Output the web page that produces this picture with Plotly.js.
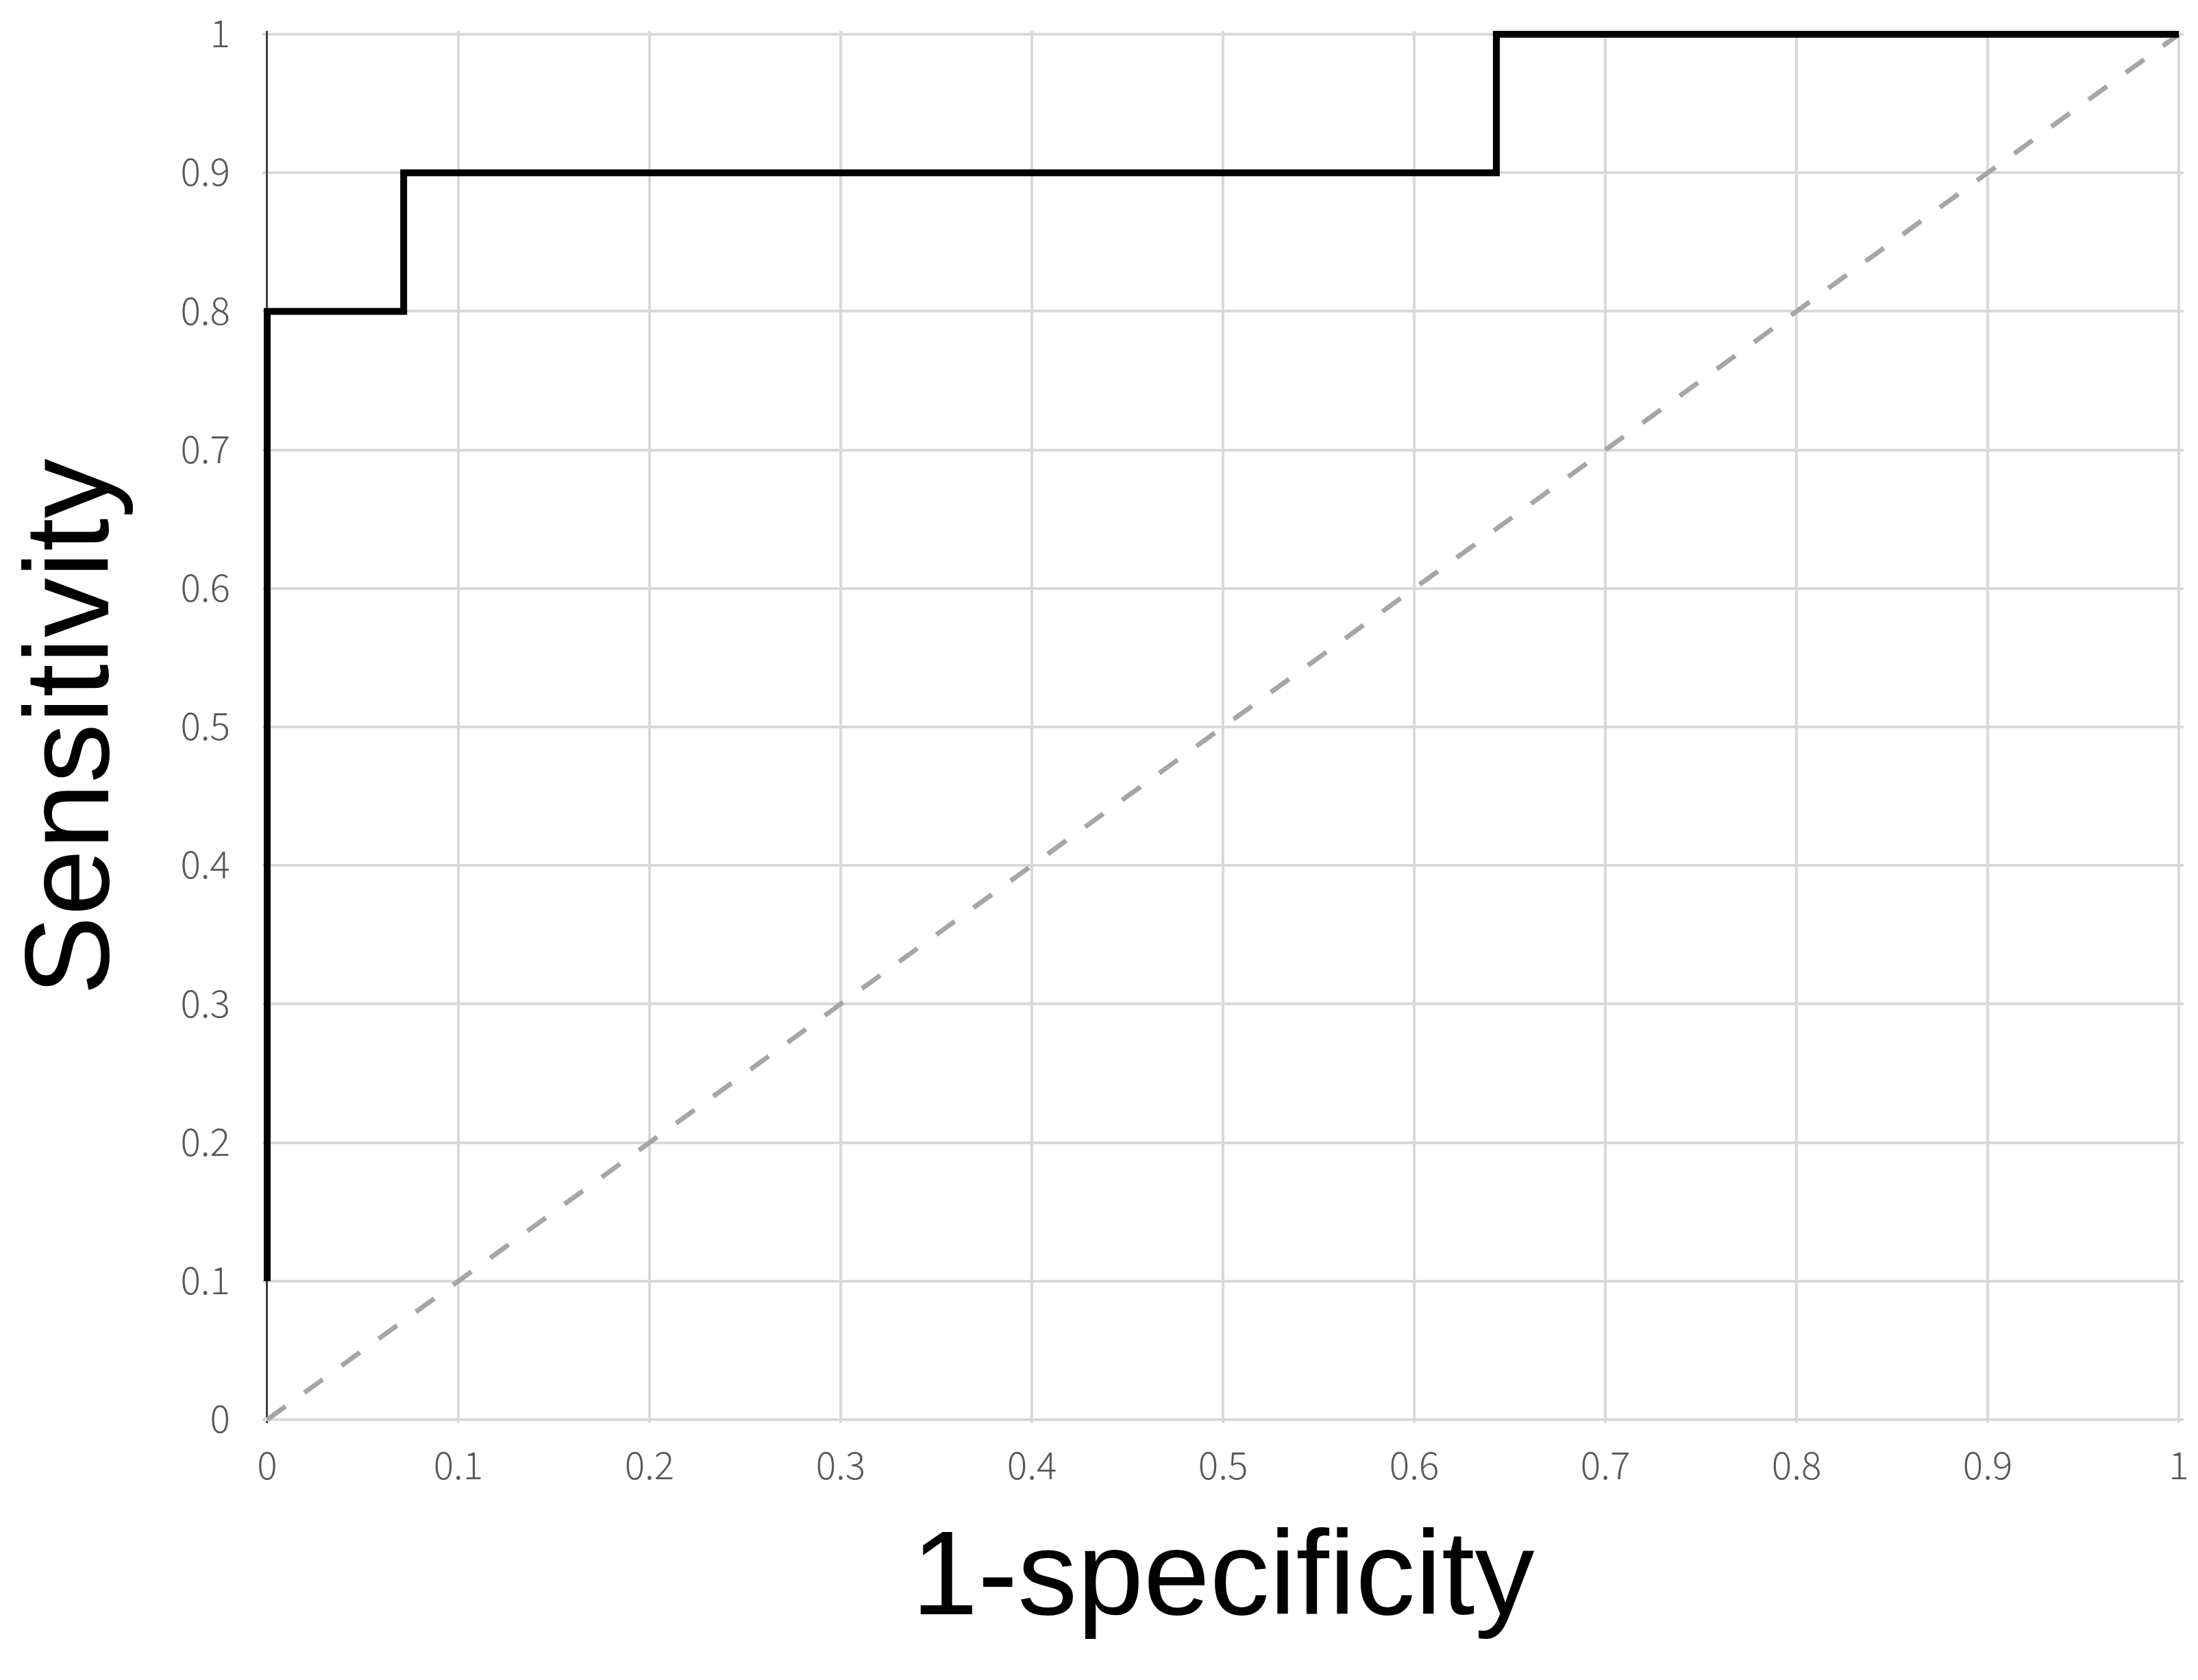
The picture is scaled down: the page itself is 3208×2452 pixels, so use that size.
<!DOCTYPE html>
<html>
<head>
<meta charset="utf-8">
<script src="https://cdn.plot.ly/plotly-3.0.1.min.js"></script>
<style>
  html, body { margin: 0; padding: 0; background: #ffffff; }
  #chart { width: 3208px; height: 2452px; }
</style>
</head>
<body>
<div id="chart"></div>
<script>
// ROC curve (1-specificity vs sensitivity)
const rocX = [0, 0, 0.0714, 0.0714, 0.643, 0.643, 1];
const rocY = [0.1, 0.8, 0.8, 0.9, 0.9, 1, 1];
// chance (reference) diagonal
const refX = [0, 1];
const refY = [0, 1];
// axis ticks
const tickVals = [0, 0.1, 0.2, 0.3, 0.4, 0.5, 0.6, 0.7, 0.8, 0.9, 1];
const tickText = ['0', '0.1', '0.2', '0.3', '0.4', '0.5', '0.6', '0.7', '0.8', '0.9', '1'];

const tickFont = { family: 'Noto Sans CJK JP, Noto Sans, sans-serif', size: 55, color: '#595959', weight: 300 };
const titleFont = { family: 'Liberation Sans, Arial, sans-serif', size: 174, color: '#000000' };

const traces = [
  {
    x: refX, y: refY, type: 'scatter', mode: 'lines',
    line: { color: '#a6a6a6', width: 7, dash: '33px,34px' },
    hoverinfo: 'skip', showlegend: false
  },
  {
    x: rocX, y: rocY, type: 'scatter', mode: 'lines',
    line: { color: '#000000', width: 10, shape: 'linear' },
    showlegend: false
  }
];

const layout = {
  width: 3208, height: 2452,
  paper_bgcolor: '#ffffff', plot_bgcolor: '#ffffff',
  margin: { l: 383, r: 21, t: 45, b: 375, pad: 0 },
  showlegend: false,
  xaxis: {
    range: [-0.0025, 1.0025],
    tickvals: tickVals, ticktext: tickText,
    ticks: '', ticklabelstandoff: 26,
    tickfont: tickFont,
    showgrid: true, gridcolor: '#d9d9d9', gridwidth: 4,
    zeroline: true, zerolinecolor: '#404040', zerolinewidth: 3,
    showline: false, automargin: false, fixedrange: true,
    title: { text: '1-specificity', font: titleFont, standoff: 60 }
  },
  yaxis: {
    range: [-0.0025, 1.0025],
    tickvals: tickVals, ticktext: tickText,
    ticks: '', ticklabelstandoff: 46,
    tickfont: tickFont,
    showgrid: true, gridcolor: '#d9d9d9', gridwidth: 4,
    zeroline: true, zerolinecolor: '#d9d9d9', zerolinewidth: 4,
    showline: false, automargin: false, fixedrange: true,
    title: { text: 'Sensitivity', font: titleFont, standoff: 70 }
  }
};

Plotly.newPlot('chart', traces, layout, { displayModeBar: false, staticPlot: true });
</script>
</body>
</html>
